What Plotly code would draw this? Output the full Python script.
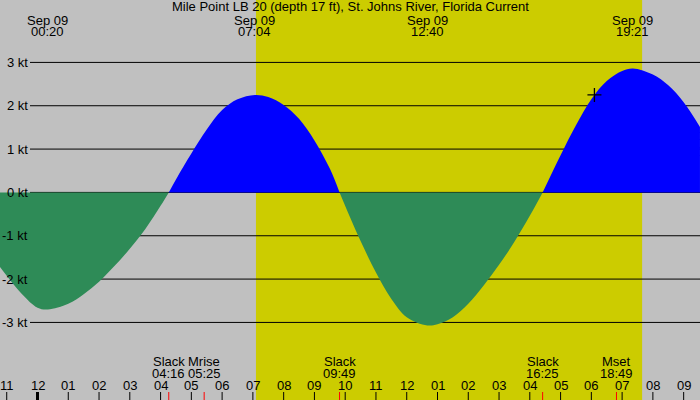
import plotly.graph_objects as go

# current speed (kt), hours from midnight Sep 09
hours = [-1.22, -0.5, 0.0, 0.333, 1.0, 1.5, 2.0, 2.5, 3.0, 3.5, 4.0, 4.267,
         4.5, 5.0, 5.5, 6.0, 6.5, 7.067, 7.5, 8.0, 8.5, 9.0, 9.5, 9.817,
         10.15, 10.5, 11.0, 11.5, 12.0, 12.667, 13.0, 13.5, 14.0, 14.5, 15.0, 15.5, 16.0, 16.417,
         17.0, 17.5, 18.0, 18.5, 19.0, 19.35, 20.0, 20.5, 21.0, 21.53]
speed = [-1.72, -2.35, -2.66, -2.70, -2.57, -2.35, -2.06, -1.70, -1.30, -0.85, -0.31, 0.0,
         0.30, 0.90, 1.45, 1.90, 2.15, 2.25, 2.20, 2.02, 1.70, 1.20, 0.55, 0.0,
         -0.56, -1.12, -1.85, -2.46, -2.88, -3.07, -3.04, -2.88, -2.57, -2.15, -1.67, -1.14, -0.54, 0.0,
         0.86, 1.55, 2.15, 2.57, 2.80, 2.86, 2.72, 2.47, 2.08, 1.51]

max_times = ["00:20", "07:04", "12:40", "19:21"]
max_date = "Sep 09"

event_names = ["Slack", "Mrise", "Slack", "Slack", "Mset"]
event_times = ["04:16", "05:25", "09:49", "16:25", "18:49"]

sunrise = "07:06"
sunset = "19:39"

now_hour = 18.1
now_speed = 2.25

kt_levels = [3, 2, 1, 0, -1, -2, -3]
hour_ticks = list(range(-1, 22))

title = "Mile Point LB 20 (depth 17 ft), St. Johns River, Florida Current"

GRAY = "#C0C0C0"
DAY = "#CCCC00"
FLOOD = "#0000FF"
EBB = "#2E8B57"
FONT = "Liberation Sans"

W, H = 700, 400
X0, X1 = -1.2187, 21.531
Y0, Y1 = -4.79, 4.44


def to_hours(hhmm):
    h, m = hhmm.split(":")
    return int(h) + int(m) / 60


def py(y):
    return 1 - y / H


def label(text, x, y, xref="x", yref="paper", **kw):
    return dict(text=text, xref=xref, yref=yref, x=x, y=y, showarrow=False,
                yanchor="middle", borderpad=0, **kw)


fig = go.Figure()

# split the curve into flood / ebb pieces at slack points
pieces = []
cur_t, cur_v = [hours[0]], [speed[0]]
for t, v in zip(hours[1:], speed[1:]):
    cur_t.append(t)
    cur_v.append(v)
    if v == 0:
        pieces.append((cur_t, cur_v))
        cur_t, cur_v = [t], [v]
pieces.append((cur_t, cur_v))

for ts, vs in pieces:
    color = FLOOD if max(vs) > 0 else EBB
    fig.add_trace(go.Scatter(
        x=ts, y=vs, mode="lines", line=dict(width=0, shape="spline", smoothing=1),
        fill="tozeroy", fillcolor=color, hoverinfo="skip", showlegend=False,
    ))

fig.add_trace(go.Scatter(
    x=[now_hour], y=[now_speed], mode="markers",
    marker=dict(symbol="cross-thin", size=10, line=dict(width=1.3, color="black")),
    hoverinfo="skip", showlegend=False,
))

shapes = [dict(type="rect", xref="x", yref="paper", x0=to_hours(sunrise), x1=to_hours(sunset),
               y0=0, y1=1, fillcolor=DAY, line_width=0, layer="below")]
for k in kt_levels:
    shapes.append(dict(type="line", xref="paper", yref="y", x0=30 / W, x1=1, y0=k, y1=k,
                       line=dict(color="black", width=1), layer="below"))
for h in hour_ticks:
    shapes.append(dict(type="line", xref="x", yref="paper", x0=h, x1=h, y0=0, y1=8 / H,
                       line=dict(color="black", width=3 if h % 24 == 0 else 1)))
for t in event_times:
    shapes.append(dict(type="line", xref="x", yref="paper", x0=to_hours(t), x1=to_hours(t),
                       y0=0, y1=8 / H, line=dict(color="red", width=1)))

annotations = [label(title, 0.5, py(7), xref="paper")]
for t in max_times:
    annotations.append(label(max_date, to_hours(t), py(20)))
    annotations.append(label(t, to_hours(t), py(32)))
for k in kt_levels:
    annotations.append(label(f"{k} kt", 29 / W, k, xref="paper", yref="y", xanchor="right"))
for h in hour_ticks:
    annotations.append(label(f"{(h - 1) % 12 + 1:02d}", h, py(385)))
for name, t in zip(event_names, event_times):
    annotations.append(label(name, to_hours(t), py(361)))
    annotations.append(label(t, to_hours(t), py(373)))

fig.update_layout(
    width=W, height=H,
    margin=dict(l=0, r=0, t=0, b=0),
    paper_bgcolor=GRAY, plot_bgcolor=GRAY,
    font=dict(family=FONT, size=13, color="black"),
    xaxis=dict(range=[X0, X1], visible=False, fixedrange=True),
    yaxis=dict(range=[Y0, Y1], visible=False, fixedrange=True),
    shapes=shapes,
    annotations=annotations,
    showlegend=False,
)

# drop the browser's default page margin so the chart sits at the window corner
fig.write_html("out.html", config={"displayModeBar": False},
               post_script="document.body.style.margin = '0';")
